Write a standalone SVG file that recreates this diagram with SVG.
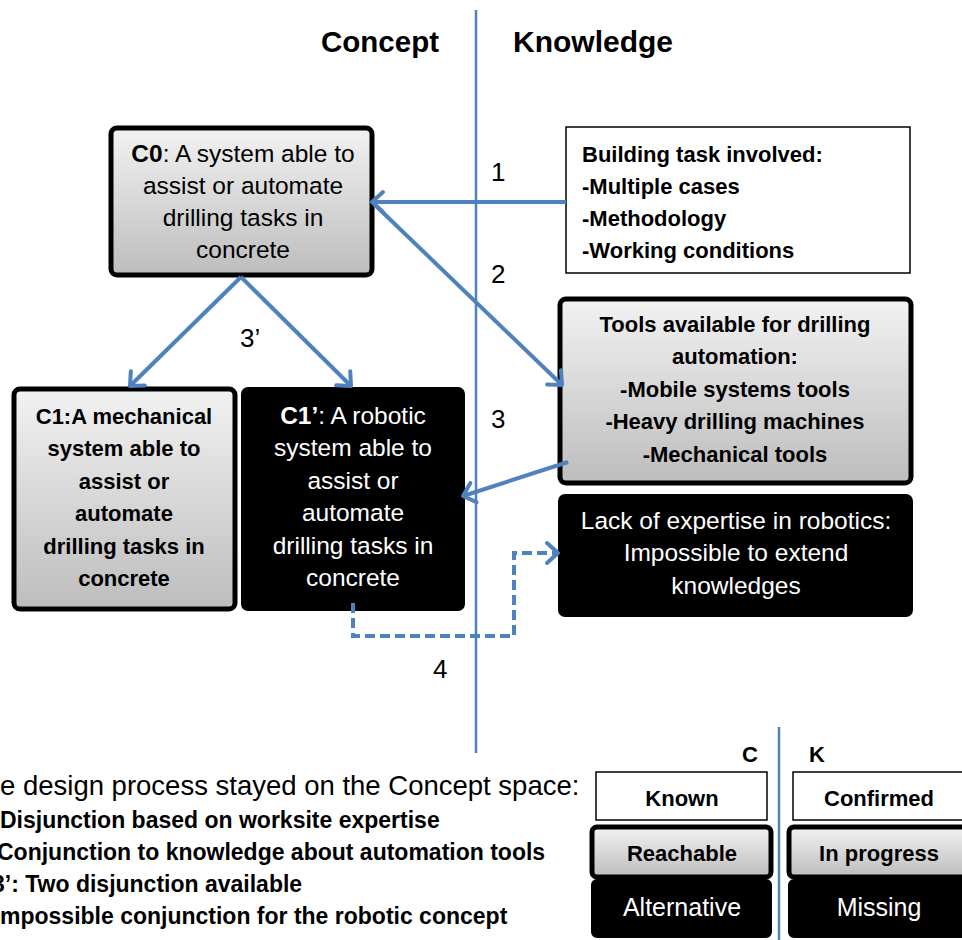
<svg xmlns="http://www.w3.org/2000/svg" width="962" height="940" viewBox="0 0 962 940">
<defs>
<linearGradient id="g" x1="0" y1="0" x2="0" y2="1">
<stop offset="0" stop-color="#f2f2f2"/>
<stop offset="1" stop-color="#bdbdbd"/>
</linearGradient>
<marker id="ah" markerUnits="userSpaceOnUse" markerWidth="30" markerHeight="30" viewBox="-15 -15 30 30" refX="0" refY="0" orient="auto">
<path d="M-11,-10 L0,0 L-11,10" fill="none" stroke="#4f81bd" stroke-width="4" stroke-linecap="round" stroke-linejoin="round"/>
</marker>
</defs>
<style>
text{font-family:"Liberation Sans",Arial,sans-serif;fill:#000}
.b{font-weight:bold}
.w{fill:#fff}
.grad{fill:url(#g);stroke:#000;stroke-width:5}
.blk{fill:#000;stroke:#000;stroke-width:2}
.wht{fill:#fff;stroke:#000;stroke-width:1.5}
.t{font-size:24.5px}
.tb{font-size:22px;font-weight:bold}
.c{text-anchor:middle}
.conn{fill:none;stroke:#4f81bd;stroke-width:4}
.axis{stroke:#4f81bd;stroke-width:2.5}
.num{font-size:26px}
</style>

<g id="axes">
<line class="axis" x1="476" y1="10" x2="476" y2="753"/>
<line class="axis" x1="779" y1="727" x2="779" y2="940"/>
<text class="b" x="321" y="52" font-size="29.5">Concept</text>
<text class="b" x="513" y="52" font-size="30">Knowledge</text>
</g>

<g id="C0">
<rect class="grad" x="111" y="128" width="261" height="147" rx="6"/>
<text class="t c" x="243" y="162"><tspan font-weight="bold">C0</tspan>: A system able to</text>
<text class="t c" x="243" y="194">assist or automate</text>
<text class="t c" x="243" y="226">drilling tasks in</text>
<text class="t c" x="243" y="258">concrete</text>
</g>

<g id="K-building">
<rect class="wht" x="566" y="127" width="344" height="146"/>
<text class="tb" x="582" y="162">Building task involved:</text>
<text class="tb" x="582" y="194">-Multiple cases</text>
<text class="tb" x="582" y="226">-Methodology</text>
<text class="tb" x="582" y="258">-Working conditions</text>
</g>

<g id="K-tools">
<rect class="grad" x="560" y="299" width="351" height="184" rx="6"/>
<text class="tb c" x="735" y="332">Tools available for drilling</text>
<text class="tb c" x="735" y="364">automation:</text>
<text class="tb c" x="735" y="397">-Mobile systems tools</text>
<text class="tb c" x="735" y="429">-Heavy drilling machines</text>
<text class="tb c" x="735" y="462">-Mechanical tools</text>
</g>

<g id="C1">
<rect class="grad" x="14" y="389" width="221" height="220" rx="6"/>
<text class="tb c" x="124" y="424">C1:A mechanical</text>
<text class="tb c" x="124" y="456">system able to</text>
<text class="tb c" x="124" y="489">assist or</text>
<text class="tb c" x="124" y="521">automate</text>
<text class="tb c" x="124" y="554">drilling tasks in</text>
<text class="tb c" x="124" y="586">concrete</text>
</g>

<g id="C1p">
<rect class="blk" x="242" y="388" width="222" height="222" rx="6"/>
<text class="t c w" x="353" y="424"><tspan font-weight="bold">C1’</tspan>: A robotic</text>
<text class="t c w" x="353" y="456">system able to</text>
<text class="t c w" x="353" y="489">assist or</text>
<text class="t c w" x="353" y="521">automate</text>
<text class="t c w" x="353" y="554">drilling tasks in</text>
<text class="t c w" x="353" y="586">concrete</text>
</g>

<g id="K-lack">
<rect class="blk" x="559" y="495" width="353" height="121" rx="6"/>
<text class="t c w" x="736" y="529">Lack of expertise in robotics:</text>
<text class="t c w" x="736" y="561">Impossible to extend</text>
<text class="t c w" x="736" y="594">knowledges</text>
</g>

<g id="connectors">
<line class="conn" x1="566" y1="202" x2="372" y2="202" marker-end="url(#ah)"/>
<line class="conn" x1="374" y1="204" x2="562" y2="385" marker-end="url(#ah)"/>
<line class="conn" x1="568" y1="462" x2="463" y2="496" marker-end="url(#ah)"/>
<line class="conn" x1="241" y1="277" x2="351" y2="386" marker-end="url(#ah)"/>
<line class="conn" x1="241" y1="277" x2="130" y2="386" marker-end="url(#ah)"/>
<path class="conn" d="M353,603 V636 H514 V553 H558" stroke-dasharray="10,5" stroke-width="3.5" marker-end="url(#ah)"/>
<text class="num" x="491" y="181">1</text>
<text class="num" x="491" y="283">2</text>
<text class="num" x="491" y="428">3</text>
<text class="num" x="240" y="347">3’</text>
<text class="num" x="433" y="678">4</text>
</g>

<g id="explanation">
<text x="0" y="795" font-size="27.5">e design process stayed on the Concept space:</text>
<text class="b" x="0" y="828" font-size="23">Disjunction based on worksite expertise</text>
<text class="b" x="-3" y="860" font-size="23">Conjunction to knowledge about automation tools</text>
<text class="b" x="-8" y="892" font-size="23">3’: Two disjunction available</text>
<text class="b" x="0" y="924" font-size="23">mpossible conjunction for the robotic concept</text>
</g>

<g id="legend">
<text class="b" x="742" y="762" font-size="22">C</text>
<text class="b" x="809" y="762" font-size="22">K</text>
<g id="L-known">
<rect class="wht" x="596" y="772" width="171" height="48"/>
<text class="tb c" x="682" y="806">Known</text>
</g>
<g id="L-confirmed">
<rect class="wht" x="793" y="772" width="180" height="48"/>
<text class="tb c" x="879" y="806">Confirmed</text>
</g>
<g id="L-reachable">
<rect class="grad" x="592" y="827" width="179" height="50" rx="5"/>
<text class="tb c" x="682" y="861">Reachable</text>
</g>
<g id="L-progress">
<rect class="grad" x="789" y="827" width="185" height="50" rx="5"/>
<text class="tb c" x="879" y="861">In progress</text>
</g>
<g id="L-alternative">
<rect class="blk" x="592" y="880" width="179" height="57" rx="5"/>
<text class="c w" x="682" y="916" font-size="25">Alternative</text>
</g>
<g id="L-missing">
<rect class="blk" x="789" y="880" width="185" height="57" rx="5"/>
<text class="c w" x="879" y="916" font-size="25">Missing</text>
</g>
</g>
</svg>
